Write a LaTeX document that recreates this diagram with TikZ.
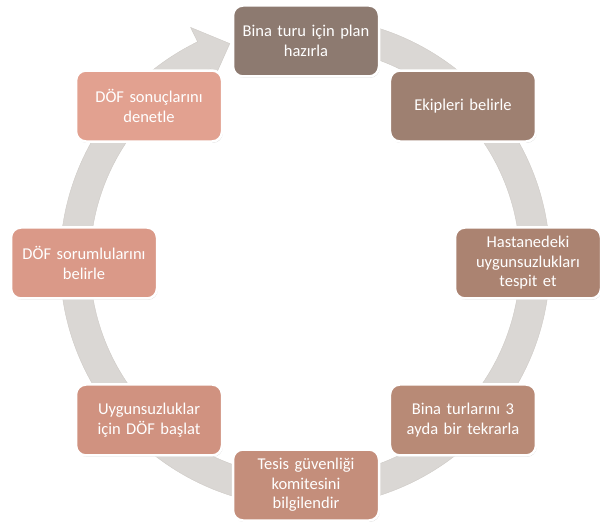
\documentclass[tikz,border=0pt]{standalone}
\usepackage{fontspec}
\setmainfont{Carlito}
\usetikzlibrary{calc,shadows}

% ring and step colours
\definecolor{ringgray}{RGB}{218,215,212}
\definecolor{ringedge}{RGB}{206,202,198}
\definecolor{stepA}{RGB}{141,122,112}
\definecolor{stepB}{RGB}{158,128,113}
\definecolor{stepC}{RGB}{171,131,113}
\definecolor{stepD}{RGB}{184,138,118}
\definecolor{stepE}{RGB}{196,142,123}
\definecolor{stepF}{RGB}{208,146,128}
\definecolor{stepG}{RGB}{218,153,136}
\definecolor{stepH}{RGB}{226,161,144}

\begin{document}
\begin{tikzpicture}[x=1pt,y=1pt,
  stepbox/.style={draw=white, line width=2.5pt, rounded corners=10pt,
    minimum width=146pt, minimum height=71pt, text width=138pt,
    align=center, text=white, inner sep=0pt,
    font=\fontsize{16.5}{19.5}\selectfont,
    drop shadow={shadow xshift=0.8pt, shadow yshift=-1.4pt, opacity=0.28}},
  ringshape/.style={fill=ringgray, draw=ringedge, line width=0.4pt}]
\useasboundingbox (0,0) rectangle (600,528);

\coordinate (rc) at (305,266);
\coordinate (bc) at (306,265);

% circular arrow running clockwise, head just left of the top step
\path[ringshape]
  ($(rc)+(88:245)$) arc[start angle=88, end angle=-244, radius=245]
  -- ($(rc)+(-244:261)$) -- ($(rc)+(-251:231)$) -- ($(rc)+(-242:200)$)
  -- ($(rc)+(-244:215)$) arc[start angle=-244, end angle=88, radius=215]
  -- cycle;

% steps of the cycle
\node[stepbox, fill=stepA] (s1) at ($(bc)+(90:222)$) {Bina turu için plan\\hazırla};
\node[stepbox, fill=stepB] (s2) at ($(bc)+(45:222)$) {Ekipleri belirle};
\node[stepbox, fill=stepC] (s3) at ($(bc)+(0:222)$) {Hastanedeki\\uygunsuzlukları\\tespit et};
\node[stepbox, fill=stepD] (s4) at ($(bc)+(-45:222)$) {Bina turlarını 3\\ayda bir tekrarla};
\node[stepbox, fill=stepE] (s5) at ($(bc)+(-90:222)$) {Tesis güvenliği\\komitesini\\bilgilendir};
\node[stepbox, fill=stepF] (s6) at ($(bc)+(-135:222)$) {Uygunsuzluklar\\için DÖF başlat};
\node[stepbox, fill=stepG] (s7) at ($(bc)+(180:222)$) {DÖF sorumlularını\\belirle};
\node[stepbox, fill=stepH] (s8) at ($(bc)+(135:222)$) {DÖF sonuçlarını\\denetle};
\end{tikzpicture}
\end{document}
